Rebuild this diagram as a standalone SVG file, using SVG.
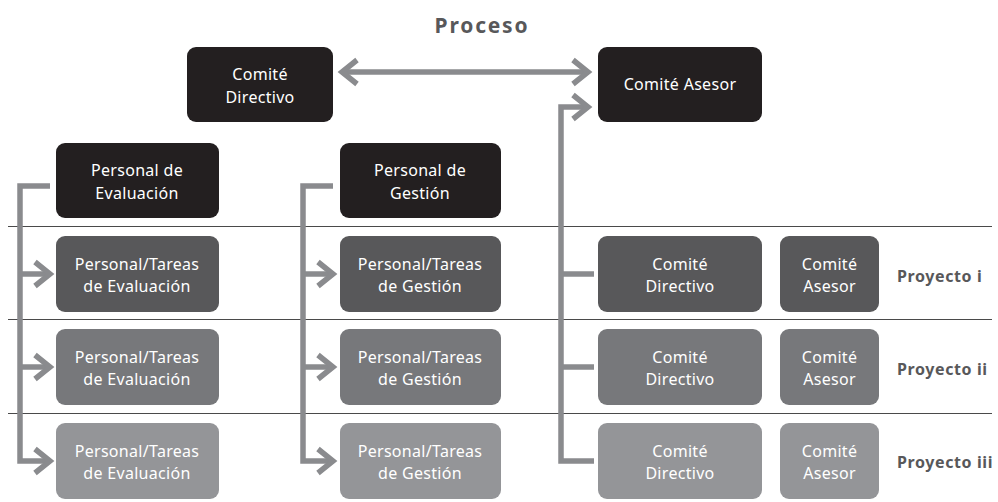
<svg xmlns="http://www.w3.org/2000/svg" width="998" height="502" viewBox="0 0 998 502">
<style>
  .box { stroke: none; }
  .k { fill: #231f20; }
  .r1 { fill: #58585a; }
  .r2 { fill: #77787b; }
  .r3 { fill: #949598; }
  .t { font-family: "Noto Sans", "Liberation Sans", sans-serif; font-size: 16px; letter-spacing: 0.3px; fill: #ffffff; text-anchor: middle; }
  .lbl { font-family: "Noto Sans", "Liberation Sans", sans-serif; font-size: 16px; letter-spacing: 0.6px; font-weight: bold; fill: #58585a; }
  .title { font-family: "Noto Sans", "Liberation Sans", sans-serif; font-size: 21px; font-weight: bold; fill: #58585a; text-anchor: middle; letter-spacing: 1.8px; }
  .sep { stroke: #4a4a4a; stroke-width: 1; }
  .con { fill: none; stroke: #8a8b8e; stroke-width: 5.5; }
</style>
<defs>
  <marker id="chev" markerUnits="userSpaceOnUse" viewBox="0 0 30 30" markerWidth="30" markerHeight="30" refX="16" refY="15" orient="auto-start-reverse" overflow="visible">
    <path d="M2,3 L17,15 L2,27" fill="none" stroke="#8a8b8e" stroke-width="5.5"/>
  </marker>
</defs>

<text class="title" x="482" y="33">Proceso</text>

<g id="separators">
  <line class="sep" x1="8" y1="226.5" x2="992" y2="226.5"/>
  <line class="sep" x1="8" y1="319.5" x2="992" y2="319.5"/>
  <line class="sep" x1="8" y1="413.5" x2="992" y2="413.5" stroke="#1a1a1a"/>
</g>

<g id="connectors">
  <path class="con" d="M343,72 H587" marker-start="url(#chev)" marker-end="url(#chev)"/>
  <path class="con" d="M50,186 H20 V461 H49" marker-end="url(#chev)"/>
  <path class="con" d="M20,274 H49" marker-end="url(#chev)"/>
  <path class="con" d="M20,367 H49" marker-end="url(#chev)"/>
  <path class="con" d="M333,186 H303 V461 H332" marker-end="url(#chev)"/>
  <path class="con" d="M303,274 H332" marker-end="url(#chev)"/>
  <path class="con" d="M303,367 H332" marker-end="url(#chev)"/>
  <path class="con" d="M594,461 H561 V107 H587" marker-end="url(#chev)"/>
  <path class="con" d="M561,274 H594"/>
  <path class="con" d="M561,367 H594"/>
</g>

<g id="comite-directivo">
  <rect class="box k" x="187" y="47" width="146" height="75" rx="9"/>
  <text class="t" x="260" y="80">Comité</text>
  <text class="t" x="260" y="103">Directivo</text>
</g>
<g id="comite-asesor">
  <rect class="box k" x="598" y="47" width="164" height="75" rx="9"/>
  <text class="t" x="680" y="90">Comité Asesor</text>
</g>
<g id="personal-evaluacion">
  <rect class="box k" x="56" y="143" width="163" height="75" rx="9"/>
  <text class="t" x="137" y="176">Personal de</text>
  <text class="t" x="137" y="199">Evaluación</text>
</g>
<g id="personal-gestion">
  <rect class="box k" x="340" y="143" width="161" height="75" rx="9"/>
  <text class="t" x="420" y="176">Personal de</text>
  <text class="t" x="420" y="199">Gestión</text>
</g>

<g id="eval-1">
  <rect class="box r1" x="56" y="236" width="163" height="76" rx="9"/>
  <text class="t" x="137" y="270">Personal/Tareas</text>
  <text class="t" x="137" y="292">de Evaluación</text>
</g>
<g id="eval-2">
  <rect class="box r2" x="56" y="329" width="163" height="76" rx="9"/>
  <text class="t" x="137" y="363">Personal/Tareas</text>
  <text class="t" x="137" y="385">de Evaluación</text>
</g>
<g id="eval-3">
  <rect class="box r3" x="56" y="423" width="163" height="76" rx="9"/>
  <text class="t" x="137" y="457">Personal/Tareas</text>
  <text class="t" x="137" y="479">de Evaluación</text>
</g>

<g id="gest-1">
  <rect class="box r1" x="340" y="236" width="161" height="76" rx="9"/>
  <text class="t" x="420" y="270">Personal/Tareas</text>
  <text class="t" x="420" y="292">de Gestión</text>
</g>
<g id="gest-2">
  <rect class="box r2" x="340" y="329" width="161" height="76" rx="9"/>
  <text class="t" x="420" y="363">Personal/Tareas</text>
  <text class="t" x="420" y="385">de Gestión</text>
</g>
<g id="gest-3">
  <rect class="box r3" x="340" y="423" width="161" height="76" rx="9"/>
  <text class="t" x="420" y="457">Personal/Tareas</text>
  <text class="t" x="420" y="479">de Gestión</text>
</g>

<g id="cd-1">
  <rect class="box r1" x="598" y="236" width="164" height="76" rx="9"/>
  <text class="t" x="680" y="270">Comité</text>
  <text class="t" x="680" y="292">Directivo</text>
</g>
<g id="cd-2">
  <rect class="box r2" x="598" y="329" width="164" height="76" rx="9"/>
  <text class="t" x="680" y="363">Comité</text>
  <text class="t" x="680" y="385">Directivo</text>
</g>
<g id="cd-3">
  <rect class="box r3" x="598" y="423" width="164" height="76" rx="9"/>
  <text class="t" x="680" y="457">Comité</text>
  <text class="t" x="680" y="479">Directivo</text>
</g>

<g id="ca-1">
  <rect class="box r1" x="780" y="236" width="99" height="76" rx="9"/>
  <text class="t" x="829.5" y="270">Comité</text>
  <text class="t" x="829.5" y="292">Asesor</text>
</g>
<g id="ca-2">
  <rect class="box r2" x="780" y="329" width="99" height="76" rx="9"/>
  <text class="t" x="829.5" y="363">Comité</text>
  <text class="t" x="829.5" y="385">Asesor</text>
</g>
<g id="ca-3">
  <rect class="box r3" x="780" y="423" width="99" height="76" rx="9"/>
  <text class="t" x="829.5" y="457">Comité</text>
  <text class="t" x="829.5" y="479">Asesor</text>
</g>

<g id="labels">
  <text class="lbl" x="897" y="282">Proyecto i</text>
  <text class="lbl" x="897" y="375">Proyecto ii</text>
  <text class="lbl" x="897" y="468">Proyecto iii</text>
</g>
</svg>
